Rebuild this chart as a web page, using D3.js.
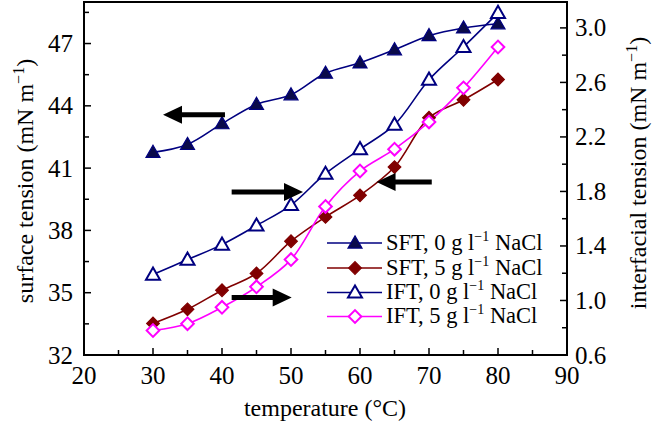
<!DOCTYPE html>
<html><head><meta charset="utf-8">
<script src="https://cdn.jsdelivr.net/npm/d3@7"></script>
<style>body{margin:0;background:#fff} svg{display:block}</style>
</head><body><svg id="c" width="654" height="423"></svg>
<script>
const temps = [30,35,40,45,50,55,60,65,70,75,80];
const sft0 = [41.76,42.14,43.14,44.07,44.53,45.57,46.07,46.70,47.38,47.75,47.95];
const sft5 = [33.52,34.20,35.12,35.93,37.48,38.65,39.69,41.05,43.43,44.29,45.27];
const ift0 = [1.19,1.30,1.41,1.55,1.70,1.93,2.11,2.29,2.62,2.86,3.11];
const ift5 = [0.78,0.83,0.95,1.10,1.30,1.69,1.95,2.11,2.31,2.56,2.86];
const xTicks = [20,30,40,50,60,70,80,90];
const yLeftTicks = [32,35,38,41,44,47];
const yRightTicks = [0.6,1.0,1.4,1.8,2.2,2.6,3.0];
const legendLabels = ["SFT, 0 g l", "SFT, 5 g l", "IFT, 0 g l", "IFT, 5 g l"];
// arrows in data units: [x tip, x tail, y (left axis)]
const arrows = [[31.45,40.43,43.57],[51.74,41.4,39.85],[50.1,41.4,34.77],[62.4,70.4,40.33]];

const svg = d3.select("#c");
const L=84, R=567, T=2, B=355;
const x = d3.scaleLinear().domain([20,90]).range([L,R]);
const yL = d3.scaleLinear().domain([32,49]).range([B,T]);
const yR = d3.scaleLinear().domain([0.6,3.19]).range([B,T]);
const font = "'Liberation Serif', 'Times New Roman', serif";
const navy="#000080", maroon="#800000", mag="#ff00ff";

const series = [
  {vals:sft0, y:yL, color:navy, shape:"tri", fill:"#0a0a4a"},
  {vals:sft5, y:yL, color:maroon, shape:"dia", fill:maroon},
  {vals:ift0, y:yR, color:navy, shape:"tri", fill:"#fff"},
  {vals:ift5, y:yR, color:mag, shape:"dia", fill:"#fff"}
];
const triSym = d3.symbol().type(d3.symbolTriangle).size(85);
const diaSym = d3.symbol().type(d3.symbolSquare).size(80);
function markerTransform(s, px, py){
  return s.shape==="dia" ? `translate(${px},${py}) rotate(45)` : `translate(${px},${py+1})`;
}

// ticks
const g = svg.append("g").attr("stroke","#000").attr("stroke-width",1.5);
d3.range(25,90,5).forEach(v=>{
  const maj = v%10===0;
  g.append("line").attr("x1",x(v)).attr("x2",x(v)).attr("y1",B).attr("y2",B-(maj?7:5));
});
d3.range(33.5,49,1.5).forEach(v=>{
  const maj = Math.abs((v-32)%3)<1e-6;
  g.append("line").attr("x1",L).attr("x2",L+(maj?7:5)).attr("y1",yL(v)).attr("y2",yL(v));
});
d3.range(0.8,3.19,0.2).forEach(v=>{
  const maj = Math.round((v-0.6)*10)%4===0;
  g.append("line").attr("x1",R).attr("x2",R-(maj?7:5)).attr("y1",yR(v)).attr("y2",yR(v));
});
svg.append("rect").attr("x",L).attr("y",T).attr("width",R-L).attr("height",B-T)
  .attr("fill","none").attr("stroke","#000").attr("stroke-width",2);

// tick labels
const tl = svg.append("g").attr("font-family",font).attr("font-size",25).attr("fill","#000");
xTicks.forEach(v=>tl.append("text").attr("x",x(v)).attr("y",B+29).attr("text-anchor","middle").text(v));
yLeftTicks.forEach(v=>tl.append("text").attr("x",L-11).attr("y",yL(v)+8.5).attr("text-anchor","end").text(v));
yRightTicks.forEach(v=>tl.append("text").attr("x",R+8).attr("y",yR(v)+8.5).attr("text-anchor","start").text(v.toFixed(1)));

// axis titles
function unitTitle(sel, base){
  sel.append("tspan").text(base+" (mN m");
  sel.append("tspan").attr("dy",-9).attr("font-size",16).text("\u22121");
  sel.append("tspan").attr("dy",9).text(")");
}
const tx = svg.append("text").attr("font-family",font).attr("font-size",24).attr("text-anchor","middle")
  .attr("transform",`translate(33,${181}) rotate(-90)`);
unitTitle(tx,"surface tension");
const tr = svg.append("text").attr("font-family",font).attr("font-size",24).attr("text-anchor","middle")
  .attr("transform",`translate(646,${173}) rotate(-90)`);
unitTitle(tr,"interfacial tension");
svg.append("text").attr("font-family",font).attr("font-size",24).attr("text-anchor","middle")
  .attr("x",325).attr("y",416).text("temperature (\u00b0C)");

// lines and markers
const plot = svg.append("g");
series.forEach(s=>{
  const pts = temps.map((t,i)=>[x(t), s.y(s.vals[i])]);
  plot.append("path").attr("d", d3.line().curve(d3.curveCatmullRom.alpha(0.5))(pts))
    .attr("fill","none").attr("stroke",s.color).attr("stroke-width",1.6);
});
series.forEach(s=>{
  const sym = s.shape==="tri"?triSym:diaSym;
  temps.forEach((t,i)=>{
    plot.append("path").attr("d",sym()).attr("transform",markerTransform(s,x(t),s.y(s.vals[i])))
      .attr("fill",s.fill).attr("stroke",s.color).attr("stroke-width",s.fill==="#fff"?2:1.2);
  });
});

// arrows
arrows.forEach(([tip,tail,yv])=>{
  const xt=x(tip), xa=x(tail), yy=yL(yv);
  const dir = xt<xa?-1:1;
  const hl=19, hw=9, sw=2.5;
  const xb = xt - dir*hl;
  const p = [[xa,yy-sw],[xb,yy-sw],[xb,yy-hw],[xt,yy],[xb,yy+hw],[xb,yy+sw],[xa,yy+sw]];
  svg.append("polygon").attr("points",p.map(q=>q.join(",")).join(" ")).attr("fill","#000");
});

// legend
const lg = svg.append("g");
const rowsY = [243,268,292.5,316.5];
series.forEach((s,i)=>{
  const yy = rowsY[i];
  lg.append("line").attr("x1",327).attr("x2",382).attr("y1",yy).attr("y2",yy).attr("stroke",s.color).attr("stroke-width",1.6);
  const sym = s.shape==="tri"?triSym:diaSym;
  lg.append("path").attr("d",sym()).attr("transform",markerTransform(s,355,yy))
    .attr("fill",s.fill).attr("stroke",s.color).attr("stroke-width",s.fill==="#fff"?2:1.2);
  const t = lg.append("text").attr("x",386).attr("y",yy+6.5).attr("font-family",font).attr("font-size",22.5);
  t.append("tspan").text(legendLabels[i]);
  t.append("tspan").attr("dy",-9).attr("font-size",14).text("\u22121");
  t.append("tspan").attr("dy",9).text(" NaCl");
});
</script></body></html>
